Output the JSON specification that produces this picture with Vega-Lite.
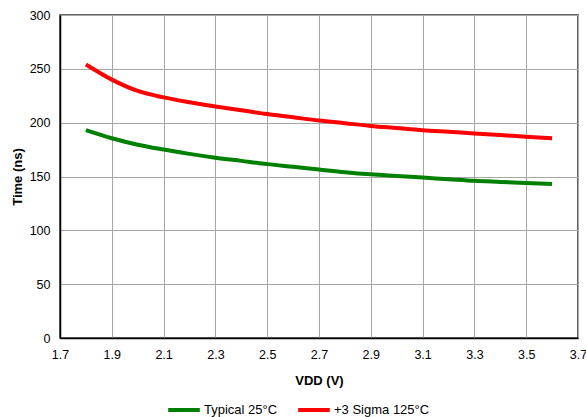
{
  "$schema": "https://vega.github.io/schema/vega-lite/v6.json",
  "width": 518,
  "height": 323,
  "autosize": {"type": "none"},
  "padding": {"left": 60, "top": 15, "right": 8, "bottom": 79},
  "background": "white",
  "config": {
    "font": "Liberation Sans",
    "view": {"stroke": "#333333", "strokeWidth": 1.5},
    "axis": {
      "labelFont": "Liberation Sans",
      "labelFontSize": 12.5,
      "labelColor": "#000000",
      "titleFont": "Liberation Sans",
      "titleFontSize": 13,
      "titleFontWeight": "bold",
      "titleColor": "#000000",
      "gridColor": "#a6a6a6",
      "gridWidth": 1,
      "gridOpacity": 1,
      "ticks": false,
      "domainColor": "#000000",
      "domainWidth": 1.5
    },
    "legend": {
      "labelFont": "Liberation Sans",
      "labelFontSize": 13,
      "labelColor": "#000000"
    }
  },
  "data": {
    "values": [
      {"v": 1.8, "t": 254, "s": "+3 Sigma 125°C"},
      {"v": 1.9, "t": 240, "s": "+3 Sigma 125°C"},
      {"v": 2.0, "t": 229.5, "s": "+3 Sigma 125°C"},
      {"v": 2.1, "t": 223.5, "s": "+3 Sigma 125°C"},
      {"v": 2.2, "t": 219, "s": "+3 Sigma 125°C"},
      {"v": 2.3, "t": 215, "s": "+3 Sigma 125°C"},
      {"v": 2.4, "t": 211.5, "s": "+3 Sigma 125°C"},
      {"v": 2.5, "t": 208, "s": "+3 Sigma 125°C"},
      {"v": 2.6, "t": 205, "s": "+3 Sigma 125°C"},
      {"v": 2.7, "t": 202, "s": "+3 Sigma 125°C"},
      {"v": 2.8, "t": 199.5, "s": "+3 Sigma 125°C"},
      {"v": 2.9, "t": 197, "s": "+3 Sigma 125°C"},
      {"v": 3.0, "t": 195, "s": "+3 Sigma 125°C"},
      {"v": 3.1, "t": 193, "s": "+3 Sigma 125°C"},
      {"v": 3.2, "t": 191.5, "s": "+3 Sigma 125°C"},
      {"v": 3.3, "t": 190, "s": "+3 Sigma 125°C"},
      {"v": 3.4, "t": 188.5, "s": "+3 Sigma 125°C"},
      {"v": 3.5, "t": 187, "s": "+3 Sigma 125°C"},
      {"v": 3.6, "t": 185.5, "s": "+3 Sigma 125°C"},
      {"v": 1.8, "t": 193, "s": "Typical 25°C"},
      {"v": 1.9, "t": 185.5, "s": "Typical 25°C"},
      {"v": 2.0, "t": 179.5, "s": "Typical 25°C"},
      {"v": 2.1, "t": 175, "s": "Typical 25°C"},
      {"v": 2.2, "t": 171, "s": "Typical 25°C"},
      {"v": 2.3, "t": 167.5, "s": "Typical 25°C"},
      {"v": 2.4, "t": 164.5, "s": "Typical 25°C"},
      {"v": 2.5, "t": 161.5, "s": "Typical 25°C"},
      {"v": 2.6, "t": 159, "s": "Typical 25°C"},
      {"v": 2.7, "t": 156.5, "s": "Typical 25°C"},
      {"v": 2.8, "t": 154, "s": "Typical 25°C"},
      {"v": 2.9, "t": 152, "s": "Typical 25°C"},
      {"v": 3.0, "t": 150.5, "s": "Typical 25°C"},
      {"v": 3.1, "t": 149, "s": "Typical 25°C"},
      {"v": 3.2, "t": 147.5, "s": "Typical 25°C"},
      {"v": 3.3, "t": 146, "s": "Typical 25°C"},
      {"v": 3.4, "t": 145, "s": "Typical 25°C"},
      {"v": 3.5, "t": 144, "s": "Typical 25°C"},
      {"v": 3.6, "t": 143, "s": "Typical 25°C"}
    ]
  },
  "mark": {"type": "line", "strokeWidth": 4, "interpolate": "monotone"},
  "encoding": {
    "x": {
      "field": "v",
      "type": "quantitative",
      "scale": {"domain": [1.7, 3.7], "nice": false, "zero": false},
      "axis": {
        "values": [1.7, 1.9, 2.1, 2.3, 2.5, 2.7, 2.9, 3.1, 3.3, 3.5, 3.7],
        "format": ".1f",
        "labelPadding": 10,
        "title": "VDD (V)",
        "titlePadding": 14,
        "labelFlush": false,
        "labelOverlap": false
      }
    },
    "y": {
      "field": "t",
      "type": "quantitative",
      "scale": {"domain": [0, 300], "nice": false},
      "axis": {
        "values": [0, 50, 100, 150, 200, 250, 300],
        "labelPadding": 10,
        "title": "Time (ns)",
        "titlePadding": 5
      }
    },
    "color": {
      "field": "s",
      "type": "nominal",
      "scale": {"domain": ["Typical 25°C", "+3 Sigma 125°C"], "range": ["#008000", "#ff0000"]},
      "legend": {
        "orient": "none",
        "legendX": 106,
        "legendY": 377,
        "direction": "horizontal",
        "title": null,
        "symbolType": "stroke",
        "symbolSize": 1000,
        "symbolStrokeWidth": 4,
        "labelOffset": 2,
        "columnPadding": 12
      }
    }
  }
}
